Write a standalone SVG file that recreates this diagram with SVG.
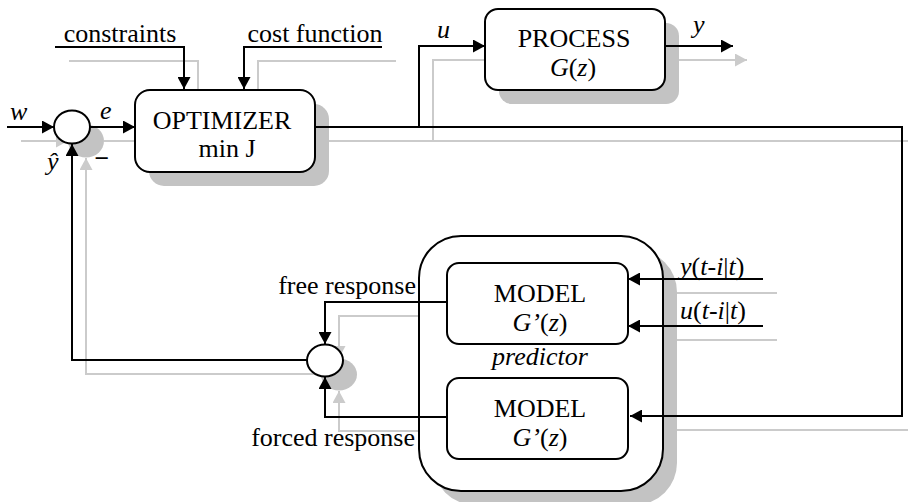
<svg xmlns="http://www.w3.org/2000/svg" width="908" height="502" viewBox="0 0 908 502" font-family="'Liberation Serif', 'DejaVu Serif', serif" font-size="26">
<style>
.ln{fill:none;stroke:#000;stroke-width:2}
.sh{fill:none;stroke:#cbcbcb;stroke-width:2}
.shf{fill:#c3c3c3;stroke:none}
.box{fill:#fff;stroke:#000;stroke-width:2}
text{fill:#000}
.it{font-style:italic}
.mid{text-anchor:middle}
.end{text-anchor:end}
</style>
<defs>
<marker id="ah" markerUnits="userSpaceOnUse" viewBox="0 0 12 13" markerWidth="12" markerHeight="13" refX="12" refY="6.5" orient="auto">
<path d="M0,0 L12,6.5 L0,13 z" fill="#000"/>
</marker>
<marker id="ahs" markerUnits="userSpaceOnUse" viewBox="0 0 12 13" markerWidth="12" markerHeight="13" refX="12" refY="6.5" orient="auto">
<path d="M0,0 L12,6.5 L0,13 z" fill="#cbcbcb"/>
</marker>
</defs>
<rect width="908" height="502" fill="#fff"/>

<!-- drop shadow layer, offset by 14px -->
<g id="shadows" transform="translate(14 14)">
<g class="sh" marker-end="url(#ahs)">
<path d="M55,47 H184 V89"/>
<path d="M382,47 H244 V89"/>
<path d="M7,127 H54"/>
<path d="M90,127 H135"/>
<path d="M307,360 H72 V144"/>
<path d="M315,127 H902 V416 H630"/>
<path d="M419,127 V46 H485"/>
<path d="M665,46 H733"/>
<path d="M447,302 H325 V344"/>
<path d="M447,417 H325 V377"/>
<path d="M763,279 H628"/>
<path d="M763,326 H628"/>
</g>
<rect class="shf" x="135" y="90" width="180" height="82" rx="15"/>
<rect class="shf" x="485" y="9" width="180" height="81" rx="13"/>
<rect class="shf" x="419" y="236" width="244" height="255" rx="42"/>
<ellipse class="shf" cx="72" cy="127" rx="18" ry="16.5"/>
<ellipse class="shf" cx="325" cy="360.5" rx="18" ry="16"/>
</g>

<g id="sum-error">
<ellipse class="box" cx="72" cy="127" rx="18" ry="16.5"/>
</g>

<g id="optimizer">
<rect class="box" x="135" y="90" width="180" height="82" rx="15"/>
<text class="mid" x="222" y="129">OPTIMIZER</text>
<text class="mid" x="227" y="157">min J</text>
</g>

<g id="process">
<rect class="box" x="485" y="9" width="180" height="81" rx="13"/>
<text class="mid" x="574" y="47">PROCESS</text>
<text class="mid" x="573" y="76"><tspan class="it">G</tspan>(<tspan class="it">z</tspan>)</text>
</g>

<g id="predictor">
<rect class="box" x="419" y="236" width="244" height="255" rx="42"/>
<text class="mid it" x="540" y="365">predictor</text>
</g>

<g id="model-free">
<rect class="box" x="447" y="263" width="181" height="81" rx="12"/>
<text class="mid" x="540" y="302">MODEL</text>
<text class="mid" x="540" y="331"><tspan class="it">G’</tspan>(<tspan class="it">z</tspan>)</text>
</g>

<g id="model-forced">
<rect class="box" x="447" y="378" width="181" height="81" rx="12"/>
<text class="mid" x="540" y="417">MODEL</text>
<text class="mid" x="540" y="446"><tspan class="it">G’</tspan>(<tspan class="it">z</tspan>)</text>
</g>

<g id="sum-prediction">
<ellipse class="box" cx="325" cy="360.5" rx="18" ry="16"/>
</g>

<g id="connectors">
<g class="ln" marker-end="url(#ah)">
<path d="M55,47 H184 V89"/>
<path d="M382,47 H244 V89"/>
<path d="M7,127 H54"/>
<path d="M90,127 H135"/>
<path d="M307,360 H72 V144"/>
<path d="M315,127 H902 V416 H630"/>
<path d="M419,127 V46 H485"/>
<path d="M665,46 H733"/>
<path d="M447,302 H325 V344"/>
<path d="M447,417 H325 V377"/>
<path d="M763,279 H628"/>
<path d="M763,326 H628"/>
</g>
<text class="mid" x="120" y="42">constraints</text>
<text class="mid" x="315" y="42">cost function</text>
<text class="it" x="10" y="120">w</text>
<text class="it" x="100" y="119">e</text>
<text class="it" x="47" y="170">ŷ</text>
<text class="mid" x="102" y="167" font-weight="bold">−</text>
<text class="it" x="437" y="38">u</text>
<text class="it" x="693" y="33">y</text>
<text class="end" x="416" y="294">free response</text>
<text class="end" x="415" y="446">forced response</text>
<text x="680" y="275"><tspan class="it">y</tspan>(<tspan class="it">t</tspan>-<tspan class="it">i</tspan>|<tspan class="it">t</tspan>)</text>
<text x="680" y="319"><tspan class="it">u</tspan>(<tspan class="it">t</tspan>-<tspan class="it">i</tspan>|<tspan class="it">t</tspan>)</text>
</g>
</svg>
